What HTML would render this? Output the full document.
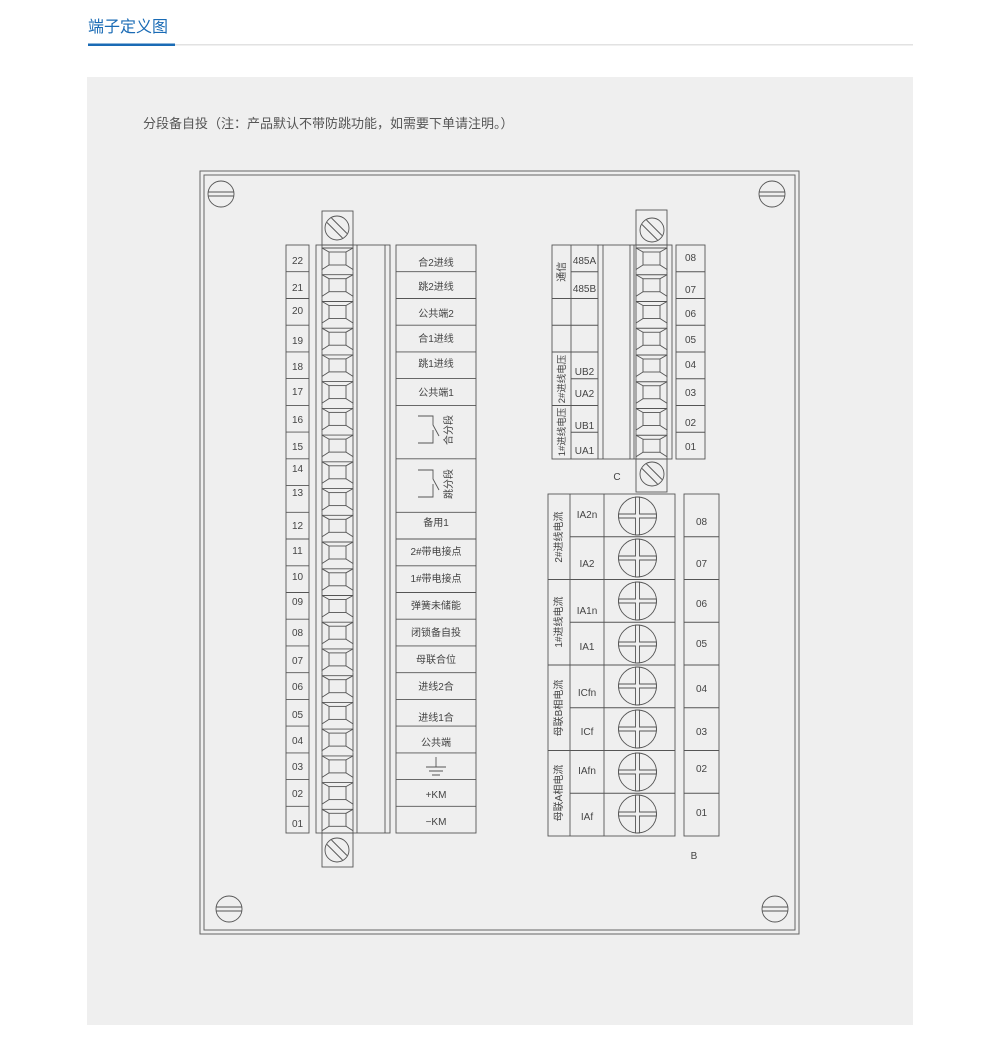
<!DOCTYPE html>
<html><head><meta charset="utf-8">
<style>
html,body{margin:0;padding:0;background:#fff;}
body{width:1000px;height:1041px;position:relative;overflow:hidden;font-family:"Liberation Sans","Noto Sans CJK SC",sans-serif;}
svg text{font-family:"Liberation Sans","Noto Sans CJK SC",sans-serif;fill:#444;}
</style></head><body>
<svg width="1000" height="1041" viewBox="0 0 1000 1041" xmlns="http://www.w3.org/2000/svg">
<defs>
<g id="cell" fill="none" stroke="#555" stroke-width="0.9">
<path d="M0 0V26.7M31 0V26.7"/>
<path d="M0 3H31"/>
<rect x="7" y="7" width="17" height="13"/>
<path d="M0 3L7 7M31 3L24 7M0 24.5L7 20M31 24.5L24 20"/>
</g>
<g id="slot" fill="none" stroke="#555" stroke-width="0.9">
<circle cx="0" cy="0" r="12"/>
<path d="M-10 -5.5L5.5 10M-5.5 -10L10 5.5"/>
</g>
<g id="corner" fill="none" stroke="#555" stroke-width="0.9">
<circle cx="0" cy="0" r="13"/>
<path d="M-13 -2H13M-13 2H13"/>
</g>
<g id="big" fill="none" stroke="#555" stroke-width="0.9">
<circle cx="0" cy="0" r="19"/>
<path d="M-2 -18.9L2 -18.9L2 -2L18.9 -2L18.9 2L2 2L2 18.9L-2 18.9L-2 2L-18.9 2L-18.9 -2L-2 -2Z"/>
</g>
</defs>

<text x="88" y="32" font-size="16" style="fill:#1a6bb5">端子定义图</text>
<rect x="175" y="44" width="738" height="1.5" fill="#e2e2e2"/>
<rect x="88" y="43.5" width="87" height="2.5" fill="#1a6bb5"/>

<rect x="87" y="77" width="826" height="948" fill="#efefef"/>
<text x="143" y="128" font-size="13" style="fill:#555">分段备自投（注：产品默认不带防跳功能，如需要下单请注明。）</text>

<g fill="none" stroke="#666" stroke-width="1">
<rect x="200" y="171" width="599" height="763"/>
<rect x="204" y="175" width="591" height="755"/>
</g>
<use href="#corner" x="221" y="194"/>
<use href="#corner" x="772" y="194"/>
<use href="#corner" x="229" y="909"/>
<use href="#corner" x="775" y="909"/>

<!-- LEFT BLOCK -->
<g fill="none" stroke="#555" stroke-width="0.9">
<rect x="322" y="211" width="31" height="34"/>
<rect x="322" y="833" width="31" height="34"/>
<rect x="316" y="245" width="74" height="588"/>
<path d="M357 245V833M385 245V833"/>
<rect x="286" y="245" width="23" height="588"/>
<path d="M286 271.7H309M286 298.5H309M286 325.2H309M286 351.9H309M286 378.6H309M286 405.4H309M286 432.1H309M286 458.8H309M286 485.6H309M286 512.3H309M286 539H309M286 565.8H309M286 592.5H309M286 619.2H309M286 645.9H309M286 672.7H309M286 699.4H309M286 726.1H309M286 752.9H309M286 779.6H309M286 806.3H309"/>
<rect x="396" y="245" width="80" height="588"/>
<path d="M396 271.7H476M396 298.5H476M396 325.2H476M396 351.9H476M396 378.6H476M396 405.4H476M396 458.8H476M396 512.3H476M396 539H476M396 565.8H476M396 592.5H476M396 619.2H476M396 645.9H476M396 672.7H476M396 699.4H476M396 726.1H476M396 752.9H476M396 779.6H476M396 806.3H476"/>
<path d="M418 416H433V425L439 436M433 430V443H418"/>
<path d="M418 470H433V479L439 490M433 484V497H418"/>
<path d="M436 757V767M426 767H446M429 771H443M432 775H440"/>
</g>
<use href="#slot" x="337" y="228"/>
<use href="#slot" x="337" y="850"/>
<g>
<use href="#cell" x="322" y="245"/><use href="#cell" x="322" y="271.7"/><use href="#cell" x="322" y="298.5"/><use href="#cell" x="322" y="325.2"/><use href="#cell" x="322" y="351.9"/><use href="#cell" x="322" y="378.6"/><use href="#cell" x="322" y="405.4"/><use href="#cell" x="322" y="432.1"/><use href="#cell" x="322" y="458.8"/><use href="#cell" x="322" y="485.6"/><use href="#cell" x="322" y="512.3"/><use href="#cell" x="322" y="539"/><use href="#cell" x="322" y="565.8"/><use href="#cell" x="322" y="592.5"/><use href="#cell" x="322" y="619.2"/><use href="#cell" x="322" y="645.9"/><use href="#cell" x="322" y="672.7"/><use href="#cell" x="322" y="699.4"/><use href="#cell" x="322" y="726.1"/><use href="#cell" x="322" y="752.9"/><use href="#cell" x="322" y="779.6"/><use href="#cell" x="322" y="806.3"/>
</g>
<g font-size="10" text-anchor="middle">
<text x="297.5" y="264">22</text><text x="297.5" y="291">21</text><text x="297.5" y="314">20</text><text x="297.5" y="344">19</text><text x="297.5" y="370">18</text><text x="297.5" y="395">17</text><text x="297.5" y="423">16</text><text x="297.5" y="450">15</text><text x="297.5" y="472">14</text><text x="297.5" y="496">13</text><text x="297.5" y="529">12</text><text x="297.5" y="554">11</text><text x="297.5" y="580">10</text><text x="297.5" y="605">09</text><text x="297.5" y="636">08</text><text x="297.5" y="664">07</text><text x="297.5" y="690">06</text><text x="297.5" y="718">05</text><text x="297.5" y="744">04</text><text x="297.5" y="770">03</text><text x="297.5" y="797">02</text><text x="297.5" y="827">01</text>
<text x="436" y="266">合2进线</text><text x="436" y="290">跳2进线</text><text x="436" y="317">公共端2</text><text x="436" y="342">合1进线</text><text x="436" y="367">跳1进线</text><text x="436" y="396">公共端1</text>
<text x="436" y="526">备用1</text><text x="436" y="555">2#带电接点</text><text x="436" y="582">1#带电接点</text><text x="436" y="609">弹簧未储能</text><text x="436" y="636">闭锁备自投</text><text x="436" y="663">母联合位</text><text x="436" y="690">进线2合</text><text x="436" y="721">进线1合</text><text x="436" y="746">公共端</text><text x="436" y="798">+KM</text><text x="436" y="825">−KM</text>
<text transform="translate(452,430) rotate(-90)">合分段</text>
<text transform="translate(452,484) rotate(-90)">跳分段</text>
</g>

<!-- RIGHT TOP BLOCK (C) -->
<g fill="none" stroke="#555" stroke-width="0.9">
<rect x="636" y="210" width="31" height="35"/>
<rect x="636" y="459" width="31" height="33"/>
<rect x="552" y="245" width="120" height="214"/>
<path d="M571 245V459M598 245V459M603 245V459M630 245V459M634 245V459"/>
<path d="M571 271.75H598M552 298.5H598M552 325.25H598M552 352H598M571 378.75H598M552 405.5H598M571 432.25H598"/>
<rect x="676" y="245" width="29" height="214"/>
<path d="M676 271.75H705M676 298.5H705M676 325.25H705M676 352H705M676 378.75H705M676 405.5H705M676 432.25H705"/>
</g>
<use href="#slot" x="652" y="230"/>
<use href="#slot" x="652" y="474"/>
<g>
<use href="#cell" x="636" y="245"/><use href="#cell" x="636" y="271.75"/><use href="#cell" x="636" y="298.5"/><use href="#cell" x="636" y="325.25"/><use href="#cell" x="636" y="352"/><use href="#cell" x="636" y="378.75"/><use href="#cell" x="636" y="405.5"/><use href="#cell" x="636" y="432.25"/>
</g>
<g font-size="10" text-anchor="middle">
<text x="584.5" y="264">485A</text><text x="584.5" y="292">485B</text>
<text x="584.5" y="375">UB2</text><text x="584.5" y="397">UA2</text><text x="584.5" y="429">UB1</text><text x="584.5" y="454">UA1</text>
<text transform="translate(565,271.75) rotate(-90)">通信</text>
<text transform="translate(565,379) rotate(-90)" font-size="9.5">2#进线电压</text>
<text transform="translate(565,432) rotate(-90)" font-size="9.5">1#进线电压</text>
<text x="690.5" y="261">08</text><text x="690.5" y="293">07</text><text x="690.5" y="317">06</text><text x="690.5" y="343">05</text><text x="690.5" y="368">04</text><text x="690.5" y="396">03</text><text x="690.5" y="426">02</text><text x="690.5" y="450">01</text>
<text x="617" y="480">C</text>
</g>

<!-- RIGHT BOTTOM BLOCK (B) -->
<g fill="none" stroke="#555" stroke-width="0.9">
<rect x="548" y="494" width="127" height="342"/>
<path d="M570 494V836M604 494V836"/>
<path d="M570 536.75H675M548 579.5H675M570 622.25H675M548 665H675M570 707.75H675M548 750.5H675M570 793.25H675"/>
<rect x="684" y="494" width="35" height="342"/>
<path d="M684 536.75H719M684 579.5H719M684 622.25H719M684 665H719M684 707.75H719M684 750.5H719M684 793.25H719"/>
</g>
<g>
<use href="#big" x="637.5" y="516"/><use href="#big" x="637.5" y="558"/><use href="#big" x="637.5" y="601"/><use href="#big" x="637.5" y="644"/><use href="#big" x="637.5" y="686"/><use href="#big" x="637.5" y="729"/><use href="#big" x="637.5" y="772"/><use href="#big" x="637.5" y="814"/>
</g>
<g font-size="10" text-anchor="middle">
<text x="587" y="518">IA2n</text><text x="587" y="567">IA2</text><text x="587" y="614">IA1n</text><text x="587" y="650">IA1</text><text x="587" y="696">ICfn</text><text x="587" y="735">ICf</text><text x="587" y="774">IAfn</text><text x="587" y="820">IAf</text>
<text transform="translate(562,537) rotate(-90)">2#进线电流</text>
<text transform="translate(562,622) rotate(-90)">1#进线电流</text>
<text transform="translate(562,708) rotate(-90)">母联B相电流</text>
<text transform="translate(562,793) rotate(-90)">母联A相电流</text>
<text x="701.5" y="525">08</text><text x="701.5" y="567">07</text><text x="701.5" y="607">06</text><text x="701.5" y="647">05</text><text x="701.5" y="692">04</text><text x="701.5" y="735">03</text><text x="701.5" y="772">02</text><text x="701.5" y="816">01</text>
<text x="694" y="859">B</text>
</g>
</svg>
</body></html>
